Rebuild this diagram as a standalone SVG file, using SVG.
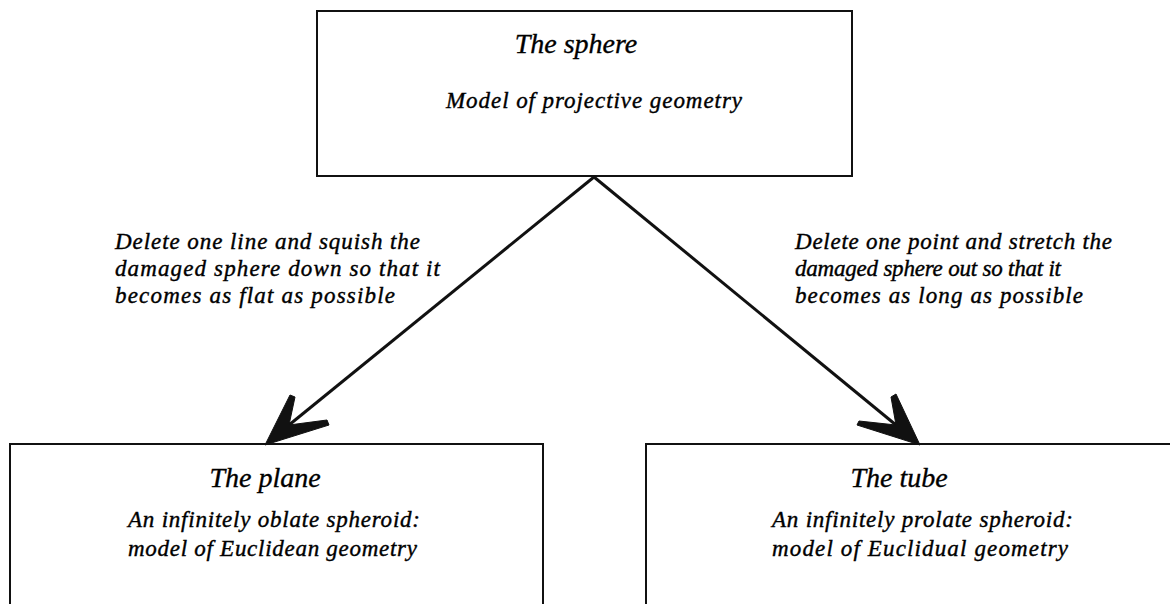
<svg xmlns="http://www.w3.org/2000/svg" width="1170" height="604" viewBox="0 0 1170 604">
  <style>
    .box { fill: #fff; stroke: #111; stroke-width: 2; }
    .title { font-family: "Liberation Serif", "Times New Roman", serif; font-style: italic; font-size: 28px; fill: #000; stroke: #000; stroke-width: 0.35; }
    .body { font-family: "Liberation Serif", "Times New Roman", serif; font-style: italic; font-size: 23px; fill: #000; stroke: #000; stroke-width: 0.4; }
    .shaft { stroke: #111; stroke-width: 3; fill: none; }
    .head { fill: #111; stroke: #111; stroke-width: 1; stroke-linejoin: round; }
  </style>
  <rect width="1170" height="604" fill="#fff"/>

  <g id="sphere">
    <rect class="box" x="317" y="11" width="535" height="165"/>
    <text class="title" x="576" y="53" text-anchor="middle">The sphere</text>
    <text class="body" x="446" y="108" textLength="296" lengthAdjust="spacing">Model of projective geometry</text>
  </g>

  <g id="plane">
    <rect class="box" x="10" y="444" width="533" height="190"/>
    <text class="title" x="265" y="487" text-anchor="middle">The plane</text>
    <text class="body" x="128" y="527" textLength="292" lengthAdjust="spacing">An infinitely oblate spheroid:</text>
    <text class="body" x="128" y="556" textLength="289" lengthAdjust="spacing">model of Euclidean geometry</text>
  </g>

  <g id="tube">
    <rect class="box" x="646" y="444" width="540" height="190"/>
    <text class="title" x="899" y="487" text-anchor="middle">The tube</text>
    <text class="body" x="772" y="527" textLength="301" lengthAdjust="spacing">An infinitely prolate spheroid:</text>
    <text class="body" x="772" y="556" textLength="296" lengthAdjust="spacing">model of Euclidual geometry</text>
  </g>

  <g id="connectors">
    <line class="shaft" x1="594" y1="177" x2="289" y2="425"/>
    <path class="head" d="M265,445 L290,395 L295,397 L289,425 L327,420 L329,425 Z"/>
    <line class="shaft" x1="594" y1="177" x2="896" y2="425"/>
    <path class="head" d="M920,445 L896,394 L891,397 L896,425 L859,421 L857,425 Z"/>

    <g id="label-left">
      <text class="body" x="115" y="249" textLength="305" lengthAdjust="spacing">Delete one line and squish the</text>
      <text class="body" x="115" y="276" textLength="325" lengthAdjust="spacing">damaged sphere down so that it</text>
      <text class="body" x="115" y="303" textLength="280" lengthAdjust="spacing">becomes as flat as possible</text>
    </g>
    <g id="label-right">
      <text class="body" x="795" y="249" textLength="317" lengthAdjust="spacing">Delete one point and stretch the</text>
      <text class="body" x="795" y="276" textLength="266" lengthAdjust="spacing">damaged sphere out so that it</text>
      <text class="body" x="795" y="303" textLength="288" lengthAdjust="spacing">becomes as long as possible</text>
    </g>
  </g>
</svg>
